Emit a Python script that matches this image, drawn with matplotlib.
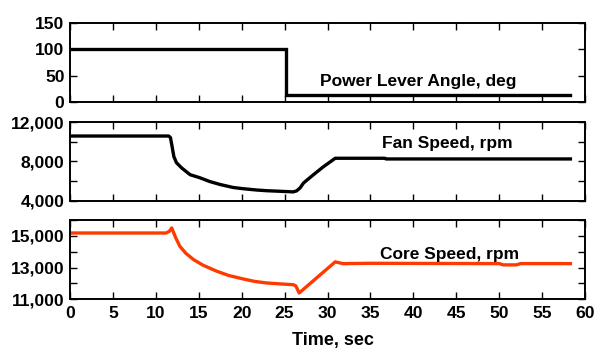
import matplotlib
matplotlib.use("Agg")
import matplotlib.pyplot as plt

plt.rcParams['font.family'] = ['Liberation Sans', 'DejaVu Sans']
plt.rcParams['font.weight'] = 'bold'

# Power lever angle
t_pla = [0, 25.2, 25.2, 58.3]
pla = [100, 100, 14, 14]

# Fan speed
t_fan = [0, 11.5, 11.7, 11.9, 12.1, 12.4, 13.0, 14.0, 15.1, 16.3, 17.5, 19.0, 20.1,
         21.75, 22.9, 24.5, 26.0, 26.4, 26.8, 27.2, 27.6, 28.5, 29.5, 30.9, 36.7, 36.8, 58.3]
fan = [10600, 10600, 10450, 9500, 8500, 7880, 7350, 6650, 6350, 5950, 5650, 5350, 5230,
       5090, 5020, 4960, 4900, 5000, 5300, 5800, 6100, 6750, 7450, 8330, 8330, 8260, 8260]

# Core speed
t_core = [0, 11.2, 11.6, 11.85, 12.3, 12.8, 13.5, 14.4, 15.5, 17.1, 18.5, 20.2, 21.5,
          22.9, 24.5, 26.0, 26.3, 26.7, 30.9, 31.8, 35, 50, 50.5, 52, 52.5, 58.3]
core = [15180, 15180, 15300, 15500, 14900, 14340, 13900, 13500, 13150, 12770, 12500, 12280, 12130,
        12030, 11970, 11920, 11850, 11400, 13360, 13250, 13270, 13250, 13170, 13170, 13250, 13250]

x_ticks = [0, 5, 10, 15, 20, 25, 30, 35, 40, 45, 50, 55, 60]
pla_ticks = [0, 50, 100, 150]
pla_labels = ['0', '50', '100', '150']
fan_ticks = [4000, 6000, 8000, 10000, 12000]
fan_labels = ['4,000', '', '8,000', '', '12,000']
core_ticks = [11000, 12000, 13000, 14000, 15000, 16000]
core_labels = ['11,000', '', '13,000', '', '15,000', '']

fig = plt.figure(figsize=(6.01, 3.49), dpi=100)
W, H = 601, 349
L, R = 70, 585

def mk(top, bottom):
    return fig.add_axes([L / W, 1 - bottom / H, (R - L) / W, (bottom - top) / H])

ax1 = mk(22.7, 102)
ax2 = mk(122.3, 200.7)
ax3 = mk(220, 299.3)

TS = 12.6
for ax in (ax1, ax2, ax3):
    ax.set_xlim(0, 60)
    ax.set_xticks(x_ticks)
    ax.tick_params(direction='in', length=5, width=1, top=True, right=True,
                   labelsize=TS, pad=4, colors='black')
    for s in ax.spines.values():
        s.set_linewidth(1.4)

ax1.plot(t_pla, pla, color='black', lw=2.4, solid_joinstyle='miter')
ax1.set_ylim(0, 150)
ax1.set_yticks(pla_ticks)
ax1.set_yticklabels(pla_labels, fontweight='bold')
ax1.set_xticklabels([])
ax1.text(40.6, 31, 'Power Lever Angle, deg', ha='center', va='baseline',
         fontsize=12.5, fontweight='bold')

ax2.plot(t_fan, fan, color='black', lw=2.4)
ax2.set_ylim(4000, 12000)
ax2.set_yticks(fan_ticks)
ax2.set_yticklabels(fan_labels, fontweight='bold')
ax2.set_xticklabels([])
ax2.text(44.0, 9350, 'Fan Speed, rpm', ha='center', va='baseline',
         fontsize=12.5, fontweight='bold')

ax3.plot(t_core, core, color='#ff3a00', lw=2.4)
ax3.set_ylim(11000, 16000)
ax3.set_yticks(core_ticks)
ax3.set_yticklabels(core_labels, fontweight='bold')
ax3.set_xticklabels([str(v) for v in x_ticks], fontweight='bold')
ax3.tick_params(axis='x', pad=5)
ax3.text(44.2, 13520, 'Core Speed, rpm', ha='center', va='baseline',
         fontsize=12.5, fontweight='bold')

fig.text(333 / W, 1 - 345 / H, 'Time, sec', ha='center', va='baseline',
         fontsize=13, fontweight='bold')

fig.savefig('out.png', dpi=100)
